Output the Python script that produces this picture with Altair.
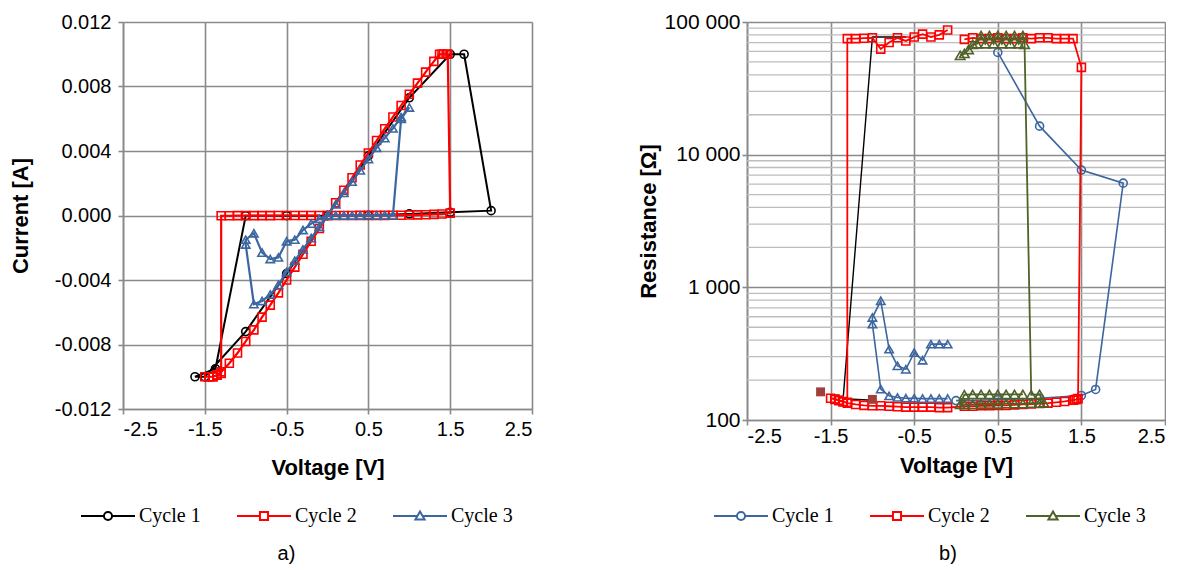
import altair as alt
import pandas as pd

# ---------------- Panel a) current vs voltage ----------------
A_C1_V = [0.0, 0.5, 1.0, 1.5, 1.67, 2.0, 1.5, 1.0, 0.5, 0.0, -0.5, -1.0, -1.37, -1.62, -1.5, -1.0, -0.5, 0.0]
A_C1_I = [0.0, 0.0037, 0.0073, 0.0100, 0.0100, 0.0003, 0.0002, 0.0001, 0.00002, 0.0, -0.00001, -0.00002,
          -0.0095, -0.0100, -0.0100, -0.0072, -0.0036, 0.0]

A_C2_V = [0.0, 0.1, 0.2, 0.3, 0.4, 0.5, 0.6, 0.7, 0.8, 0.9, 1.0, 1.1, 1.2, 1.3, 1.4, 1.5,
          1.47, 1.45, 1.42, 1.4, 1.37,
          1.3, 1.2, 1.1, 1.0, 0.9, 0.8, 0.7, 0.6, 0.5, 0.4, 0.3, 0.2, 0.1, 0.0,
          -0.1, -0.2, -0.3, -0.4, -0.5, -0.6, -0.7, -0.8, -0.9, -1.0, -1.1, -1.2, -1.3,
          -1.35, -1.4, -1.45, -1.5, -1.45, -1.4, -1.35, -1.3,
          -1.3, -1.2, -1.1, -1.0, -0.9, -0.8, -0.7, -0.6, -0.5, -0.4, -0.3, -0.2, -0.1]
A_C2_I = [0.0, 0.0, 0.0, 0.0, 0.00001, 0.00001, 0.00001, 0.00001, 0.00002, 0.00002, 0.00003, 0.00004,
          0.00005, 0.00007, 0.00009, 0.00015,
          0.0100, 0.0100, 0.0100, 0.0100, 0.0100,
          0.00956, 0.00889, 0.00821, 0.00752, 0.00682, 0.00611, 0.00538, 0.00465, 0.00388, 0.00313,
          0.00234, 0.00157, 0.00079, 0.0,
          -0.00081, -0.00160, -0.00240, -0.00320, -0.00400, -0.00480, -0.00556, -0.00630, -0.00709,
          -0.00781, -0.00853, -0.00916, -0.00970,
          -0.0099, -0.0100, -0.0100, -0.0100, -0.0100, -0.0100, -0.0099, -0.0098,
          -0.00002, -0.00002, -0.00001, -0.00001, -0.00001, -0.00001, -0.00001, 0.0, 0.0, 0.0, 0.0, 0.0, 0.0]

A_C3_V = [0.0, 0.1, 0.2, 0.3, 0.4, 0.5, 0.6, 0.7, 0.8, 0.9, 1.0,
          0.9, 0.8, 0.7, 0.6, 0.5, 0.4, 0.3, 0.2, 0.1, 0.0,
          -0.1, -0.2, -0.3, -0.4, -0.5, -0.6, -0.7, -0.8, -0.9,
          -1.0, -1.0, -0.9, -0.8, -0.7, -0.6, -0.5, -0.4, -0.3, -0.2, -0.1, 0.0]
A_C3_I = [0.0, 0.0, 0.0, 0.0, 0.0, 0.00001, 0.00001, 0.00001, 0.00001, 0.0060, 0.0067,
          0.0061, 0.0054, 0.0048, 0.0042, 0.0035, 0.0028, 0.0021, 0.0014, 0.0007, 0.0,
          -0.0007, -0.0014, -0.0021, -0.0028, -0.0035, -0.0043, -0.0049, -0.0053, -0.0055,
          -0.0018, -0.0015, -0.0011, -0.0023, -0.0027, -0.0026, -0.0016, -0.0015, -0.0009,
          -0.0005, -0.0002, 0.0]

# ---------------- Panel b) resistance vs voltage ----------------
B_C1_V = [0.5, 1.0, 1.5, 2.0, 1.67, 1.5, 1.0, 0.5, 0.0]
B_C1_R = [59000, 16400, 7650, 6100, 170, 153, 146, 142, 140]

B_C2_V = [0.1, 0.2, 0.3, 0.4, 0.5, 0.6, 0.7, 0.8, 0.9, 1.0, 1.1, 1.2, 1.3, 1.4, 1.5,
          1.46, 1.44, 1.42, 1.4,
          1.3, 1.2, 1.1, 1.0, 0.9, 0.8, 0.7, 0.6, 0.5, 0.4, 0.3, 0.2, 0.1,
          -0.1, -0.2, -0.3, -0.4, -0.5, -0.6, -0.7, -0.8, -0.9, -1.0, -1.1, -1.2, -1.3,
          -1.35, -1.4, -1.45, -1.5, -1.45, -1.4, -1.35, -1.3,
          -1.3, -1.2, -1.1, -1.0, -0.9, -0.8, -0.7, -0.6, -0.5, -0.4, -0.3, -0.2, -0.1]
B_C2_R = [74000, 76000, 75000, 75000, 76000, 75000, 75000, 76000, 75000, 76000, 76000, 75000, 75000, 75000, 45500,
          145, 143, 142, 141,
          138, 136, 134, 133, 132, 131, 130, 129, 129, 128, 128, 127, 127,
          124, 124, 125, 125, 125, 125, 126, 127, 128, 128, 129, 131, 134,
          138, 141, 144, 146, 143, 140, 137, 136,
          75000, 75000, 75500, 76000, 62500, 70000, 76000, 72000, 77000, 81000, 77000, 80000, 87000]

B_C3_V = [0.05, 0.1, 0.15, 0.2, 0.25, 0.3, 0.35, 0.4, 0.45, 0.5, 0.55, 0.6, 0.65, 0.7, 0.75, 0.8, 0.82,
          0.9, 1.0, 1.05, 1.0, 0.9, 0.8, 0.7, 0.6, 0.5, 0.4, 0.3, 0.2, 0.1, 0.05,
          0.1, 0.2, 0.3, 0.4, 0.5, 0.6, 0.7, 0.8]
B_C3_R = [56000, 58000, 62000, 68000, 68500, 79000, 68500, 79000, 68500, 79000, 68500, 79000, 68500, 79000,
          68500, 79000, 68000,
          155, 156, 135, 134, 134, 133, 133, 133, 132, 132, 132, 131, 131, 131,
          155, 156, 156, 156, 156, 156, 156, 156]

# extra traces drawn in panel b (not in its legend)
B_TRI_V = [-0.1, -0.2, -0.3, -0.4, -0.5, -0.6, -0.7, -0.8, -0.9, -1.0, -1.0, -0.9, -0.8, -0.7, -0.6,
           -0.5, -0.4, -0.3, -0.2, -0.1]
B_TRI_R = [145, 145, 145, 145, 146, 146, 148, 152, 171, 528, 592, 791, 342, 256, 241, 322, 282, 373, 373, 373]
B_BLK_V = [-0.6, -1.0, -1.35, -1.0]
B_BLK_R = [77000, 77000, 145, 141]
B_DRK_V = [-1.62, -1.0]
B_DRK_R = [163, 143]

SERIES = ["Cycle 1", "Cycle 2", "Cycle 3"]
X_TICKS = [-2.5, -1.5, -0.5, 0.5, 1.5, 2.5]
A_Y_TICKS = [-0.012, -0.008, -0.004, 0.0, 0.004, 0.008, 0.012]
B_Y_TICKS = [100, 1000, 10000, 100000]
B_Y_MINOR = [200, 300, 400, 500, 600, 700, 800, 900,
             2000, 3000, 4000, 5000, 6000, 7000, 8000, 9000,
             20000, 30000, 40000, 50000, 60000, 70000, 80000, 90000]

BLACK, RED, BLUE, GREEN, DARKRED = "#000000", "#ff0000", "#3c66a0", "#4f6228", "#a0403c"
GRID = "#8a8a8a"
P_CIRCLE = "M-1,0H-0.15M0.15,0H1M0.15,0A0.15,0.15,0,1,1,-0.15,0A0.15,0.15,0,1,1,0.15,0Z"
P_SQUARE = "M-1,0H-0.15M0.15,0H1M-0.15,-0.15H0.15V0.15H-0.15Z"
P_TRIANGLE = "M-1,0H-0.11M0.11,0H1M0,-0.17L0.17,0.13H-0.17Z"


def frame(key, vs, ys):
    return pd.DataFrame({"series": key, "i": list(range(len(vs))), "V": vs, "Y": ys})


dfa = pd.concat([frame("Cycle 1", A_C1_V, A_C1_I), frame("Cycle 2", A_C2_V, A_C2_I),
                 frame("Cycle 3", A_C3_V, A_C3_I)], ignore_index=True)
dfb = pd.concat([frame("Cycle 1", B_C1_V, B_C1_R), frame("extra black", B_BLK_V, B_BLK_R),
                 frame("Cycle 2", B_C2_V, B_C2_R), frame("Cycle 3", B_C3_V, B_C3_R),
                 frame("extra tri", B_TRI_V, B_TRI_R), frame("extra dark", B_DRK_V, B_DRK_R)],
                ignore_index=True)
dfm = pd.DataFrame({"Y": B_Y_MINOR})

xlab = "(datum.value < 0 ? '-' : '') + format(abs(datum.value), '.1f')"


def xenc(pad, tpad):
    return alt.X("V:Q", scale=alt.Scale(domain=[-2.5, 2.5], nice=False, zero=False),
                 axis=alt.Axis(values=X_TICKS, labelExpr=xlab, title="Voltage [V]",
                               labelPadding=pad, titlePadding=tpad))


ya = alt.Y("Y:Q", scale=alt.Scale(domain=[-0.012, 0.012], nice=False, zero=False),
           axis=alt.Axis(values=A_Y_TICKS, title="Current [A]", titlePadding=22, labelPadding=7,
                         labelExpr="(datum.value < 0 ? '-' : '') + format(abs(datum.value), '.3f')"))
yb = alt.Y("Y:Q", scale=alt.Scale(type="log", domain=[100, 100000], nice=False),
           axis=alt.Axis(values=B_Y_TICKS, title="Resistance [Ω]", titlePadding=4, labelPadding=2,
                         labelFontSize=21,
                         labelExpr="datum.value >= 1000 ? format(datum.value / 1000, 'd') + ' 000' : format(datum.value, 'd')"))


def series_layers(df, key, x, y, color, shape, size, lw, line=True, filled=False):
    base = alt.Chart(df).transform_filter(alt.datum.series == key)
    out = []
    if line:
        out.append(base.mark_line(color=color, strokeWidth=lw).encode(x=x, y=y, order="i:Q"))
    if shape is not None:
        out.append(base.mark_point(shape=shape, color=color, size=size, strokeWidth=1.6,
                                   filled=filled, opacity=1).encode(x=x, y=y))
    return out


def legend_layer(df, x, y, colors, lx, ly):
    leg = alt.Legend(title=None, orient="none", legendX=lx, legendY=ly, direction="horizontal",
                     symbolSize=2916, symbolStrokeWidth=2, symbolOpacity=1, symbolFillColor="white",
                     labelFont="Liberation Serif", labelFontSize=20, labelColor="#000000",
                     labelOffset=3, columnPadding=32)
    return alt.Chart(df).transform_filter(
        alt.FieldOneOfPredicate(field="series", oneOf=SERIES)
    ).mark_point(opacity=0).encode(
        x=x, y=y,
        color=alt.Color("series:N", scale=alt.Scale(domain=SERIES, range=colors), legend=leg),
        shape=alt.Shape("series:N", scale=alt.Scale(domain=SERIES, range=[P_CIRCLE, P_SQUARE, P_TRIANGLE]),
                        legend=leg),
    )


xa = xenc(5, 18)
layers_a = []
layers_a += series_layers(dfa, "Cycle 1", xa, ya, BLACK, "circle", 64, 2)
layers_a += series_layers(dfa, "Cycle 2", xa, ya, RED, "square", 64, 2.2)
layers_a += series_layers(dfa, "Cycle 3", xa, ya, BLUE, "triangle-up", 70, 2.2)
layers_a.append(legend_layer(dfa, xa, ya, [BLACK, RED, BLUE], -43, 466))
left = alt.layer(*layers_a).properties(
    width=409, height=387,
    title=alt.TitleParams("a)", orient="bottom", anchor="middle", fontSize=20, fontWeight="normal",
                          font="Liberation Sans", dx=-41, offset=18),
)

xb = xenc(1, 9)
minor = alt.Chart(dfm).mark_rule(color="#bdbdbd", strokeWidth=1.3).encode(y=yb)
layers_b = [minor]
layers_b += series_layers(dfb, "Cycle 1", xb, yb, BLUE, "circle", 64, 1.6)
layers_b += series_layers(dfb, "extra black", xb, yb, BLACK, None, 0, 1.4)
layers_b += series_layers(dfb, "Cycle 2", xb, yb, RED, "square", 64, 1.8)
layers_b += series_layers(dfb, "Cycle 3", xb, yb, GREEN, "triangle-up", 90, 1.8)
layers_b += series_layers(dfb, "extra tri", xb, yb, BLUE, "triangle-up", 70, 1.6)
layers_b += series_layers(dfb, "extra dark", xb, yb, DARKRED, "square", 80, 1, line=False, filled=True)
layers_b.append(legend_layer(dfb, xb, yb, [BLUE, RED, GREEN], -34, 466))
right = alt.layer(*layers_b).properties(
    width=418, height=398,
    title=alt.TitleParams("b)", orient="bottom", anchor="middle", fontSize=20, fontWeight="normal",
                          font="Liberation Sans", dx=-8, offset=18),
)

chart = alt.hconcat(left, right, spacing=104).resolve_scale(
    color="independent", shape="independent", y="independent"
).resolve_legend(color="independent", shape="independent").properties(
    padding={"left": 9, "top": 11, "right": 0, "bottom": 0}
).configure_view(stroke=None).configure_axis(
    labelFont="Liberation Sans", labelFontSize=20, labelColor="#000000",
    titleFont="Liberation Sans", titleFontSize=22, titleFontWeight="bold", titleColor="#000000",
    domainColor=GRID, domainWidth=1.6, tickColor=GRID, tickWidth=1.6, tickSize=5,
    gridColor=GRID, gridWidth=1.6, gridOpacity=1,
).configure_axisX(grid=True).configure_axisY(grid=True)

chart.save("out.html", embed_options={"renderer": "svg", "actions": False})
